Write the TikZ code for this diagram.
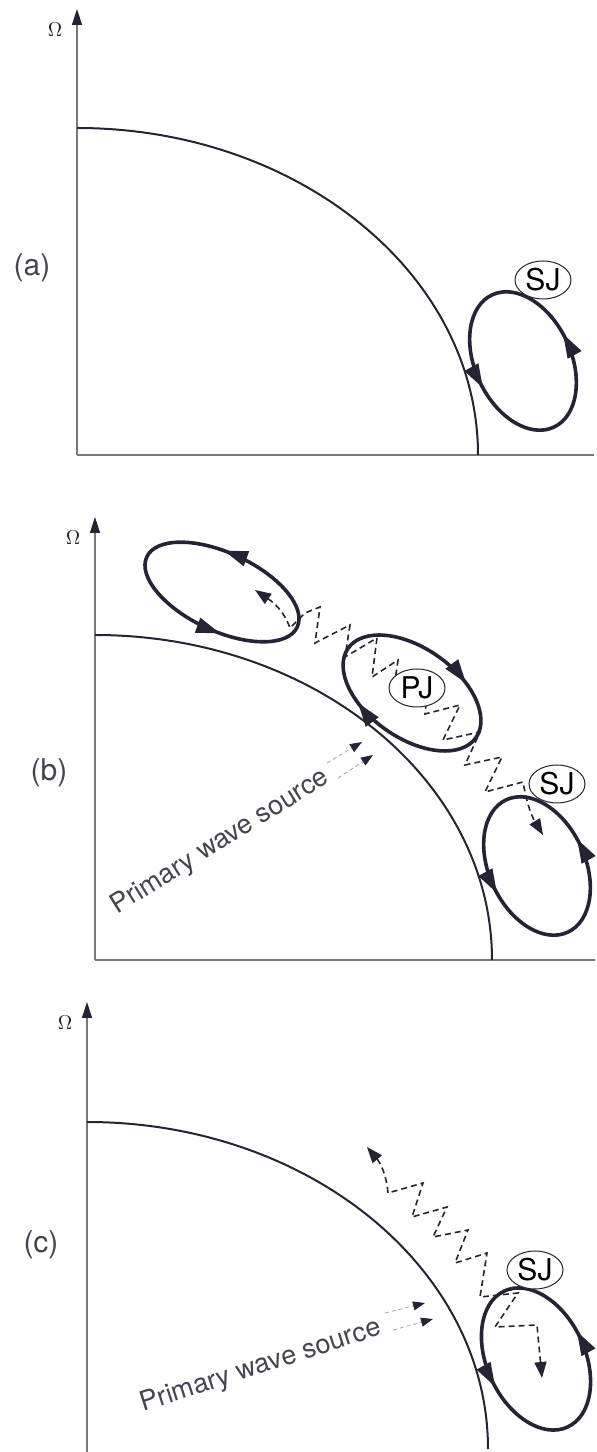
\documentclass[tikz,border=0pt]{standalone}
\usepackage{fontspec}
\setsansfont{TeX Gyre Heros}
\usepackage{tikz}
\usetikzlibrary{arrows.meta,shapes.geometric,decorations.markings}
\usepackage{amsmath}
\usepackage{xcolor}
\definecolor{ink}{RGB}{36,36,52}
\definecolor{axisgrey}{RGB}{118,122,122}
\definecolor{faint}{RGB}{150,172,150}

\tikzset{
  axisline/.style={axisgrey, line width=0.7pt, -{Triangle[length=8pt,width=5pt,color=ink]}},
  haxis/.style={axisgrey, line width=0.7pt},
  front/.style={ink, line width=1pt},
  jet/.style={ink, line width=1.8pt},
  spin/.style 2 args={postaction={decorate, decoration={markings,
      mark=at position #1 with {\arrow{Triangle[length=12pt,width=7.5pt]}},
      mark=at position #2 with {\arrow{Triangle[length=12pt,width=7.5pt]}}}}},
  spinback/.style 2 args={postaction={decorate, decoration={markings,
      mark=at position #1 with {\arrowreversed{Triangle[length=12pt,width=7.5pt]}},
      mark=at position #2 with {\arrowreversed{Triangle[length=12pt,width=7.5pt]}}}}},
  tag/.style={ellipse, draw=ink, line width=0.5pt, fill=white, inner sep=0pt,
      minimum width=28pt, minimum height=19pt, font=\sffamily\fontsize{15}{15}\selectfont},
  wave/.style={ink, line width=0.8pt, dash pattern=on 3pt off 2pt,
      {Triangle[length=8pt,width=6pt]}-{Triangle[length=8pt,width=6pt]}},
  srcarrow/.style={faint, line width=0.4pt, dash pattern=on 2pt off 1.5pt,
      -{Triangle[length=6pt,width=4.5pt,color=ink]}},
  panel/.style={font=\sffamily\fontsize{15}{15}\selectfont, text=ink!85},
  omega/.style={font=\fontsize{10}{10}\selectfont, text=ink},
  srctext/.style={font=\sffamily\fontsize{13.5}{13.5}\selectfont, text=ink!85, anchor=base},
}

\begin{document}
\begin{tikzpicture}[x=0.5pt, y=0.5pt]
  \useasboundingbox (0,0) rectangle (597,1452);

  % panel (a)
  \draw[axisline] (77,997) -- (77,1443);
  \draw[haxis] (77,997) -- (594,997);
  \node[omega] (omegaA) at (55,1422) {$\Omega$};
  \node[panel] (labelA) at (32,1184) {(a)};
  \draw[front] (77,1324) arc[start angle=90, end angle=0, x radius=401, y radius=327];
  \draw[jet, spin={0.27}{0.77}] (523,1091) circle[x radius=73, y radius=48, rotate=-65];
  \node[tag] (sjA) at (543,1172) {SJ};

  % panel (b)
  \draw[axisline] (95,492) -- (95,935);
  \draw[haxis] (95,492) -- (595,492);
  \node[omega] (omegaB) at (73,914) {$\Omega$};
  \node[panel] (labelB) at (49,679) {(b)};
  \draw[front] (95,817) arc[start angle=90, end angle=0, x radius=397, y radius=325];
  \draw[jet, spin={0.29}{0.79}] (222,860) circle[x radius=83, y radius=39, rotate=-25];
  \draw[jet, spinback={0.15}{0.65}] (412,759) circle[x radius=78, y radius=45, rotate=-35];
  \draw[jet, spin={0.27}{0.77}] (537,586) circle[x radius=73, y radius=48, rotate=-65];
  \draw[wave] (255,862) to[out=-34,in=110] (290,824) -- (305,839) -- (320,845) -- (315,809)
    -- (350,827) -- (345,795) -- (377,814) -- (372,775) -- (398,792) -- (393,757)
    -- (428,767) -- (425,738) -- (460,747) -- (443,712) -- (480,720) -- (465,687)
    -- (502,695) -- (485,660) -- (523,670) to[out=-80,in=121] (543,617);
  \node[tag] (pjB) at (417,764) {PJ};
  \node[tag] (sjB) at (557,668) {SJ};
  \draw[srcarrow] (327,689) -- (362,710);
  \draw[srcarrow] (338,674) -- (373,697);
  \node[srctext, rotate=32] (srcB) at (224,604) {Primary wave source};

  % panel (c)
  \draw[axisline] (87,0) -- (87,450);
  \node[omega] (omegaC) at (65,429) {$\Omega$};
  \node[panel] (labelC) at (41,207) {(c)};
  \draw[front] (87,330) arc[start angle=90, end angle=0, x radius=401, y radius=327];
  \draw[jet, spin={0.27}{0.77}] (536,93) circle[x radius=75, y radius=49, rotate=-65];
  \draw[wave] (367,305) to[out=-50,in=95] (388,259) -- (423,269) -- (412,235) -- (447,245)
    -- (433,215) -- (468,222) -- (455,189) -- (487,199) -- (480,155) -- (518,159)
    -- (495,125) -- (537,127) -- (542,74);
  \node[tag] (sjC) at (535,182) {SJ};
  \draw[srcarrow] (385,139) -- (425,149);
  \draw[srcarrow] (393,122) -- (433,133);
  \node[srctext, rotate=18] (srcC) at (263,79) {Primary wave source};
\end{tikzpicture}
\end{document}
